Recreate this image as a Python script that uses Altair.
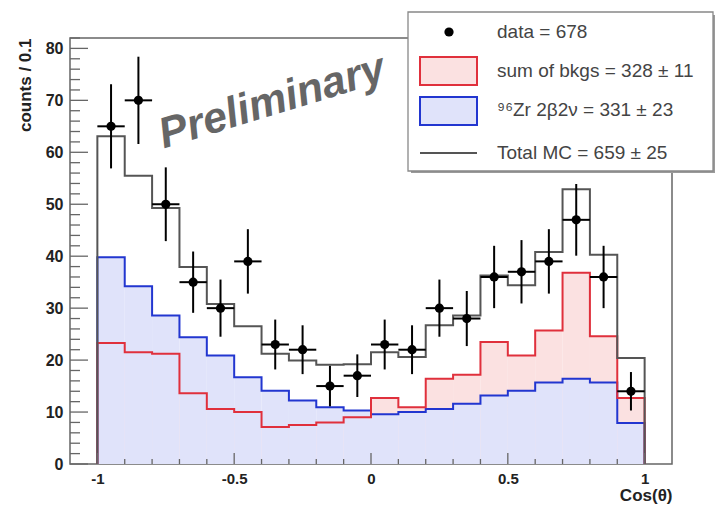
import altair as alt
import pandas as pd

# ---------------- data ----------------
edges = [round(-1.0 + 0.1 * i, 2) for i in range(21)]          # 20 bins of 0.1 on cos(theta)
data_counts = [65, 70, 50, 35, 30, 39, 23, 22, 15, 17, 23, 22, 30, 28, 36, 37, 39, 47, 36, 14]
data_err = [8.1, 8.4, 7.1, 5.9, 5.5, 6.2, 4.8, 4.7, 3.9, 4.1, 4.8, 4.7, 5.5, 5.3, 6.0, 6.1, 6.2, 6.9, 6.0, 3.7]
bkg = [23.3, 21.5, 21.2, 13.6, 10.6, 10.0, 7.1, 7.5, 8.0, 9.0,
       12.7, 10.9, 16.4, 17.2, 23.5, 20.9, 25.7, 36.8, 24.6, 12.7]
zr = [39.8, 34.2, 28.6, 24.4, 20.9, 16.7, 14.1, 12.2, 10.9, 10.3,
      9.6, 10.0, 10.6, 11.6, 13.2, 14.1, 15.7, 16.4, 15.7, 7.9]
total = [63.1, 55.5, 49.3, 37.9, 30.8, 26.5, 21.2, 19.9, 19.1, 19.2,
         21.5, 20.6, 26.7, 28.6, 36.3, 34.4, 40.8, 52.9, 40.3, 20.4]
legend_labels = ["data = 678", "sum of bkgs = 328 \u00b1 11",
                 "\u2079\u2076Zr 2\u03b22\u03bd = 331 \u00b1 23", "Total MC = 659 \u00b1 25"]
y_major = [0, 10, 20, 30, 40, 50, 60, 70, 80]
y_minor = [v for v in range(0, 83, 2) if v % 10 != 0]
x_major = [-1.0, -0.5, 0.0, 0.5, 1.0]
x_minor = [e for e in edges if e not in x_major]

W, H = 602, 426
FONT = "Liberation Sans"
FRAME = "#666666"
RED, BLUE, GREY = "#e0303c", "#2236d0", "#555555"
PINK_FILL, BLUE_FILL = "#fbe1e1", "#e0e3fa"

xs = alt.Scale(domain=[-1.1, 1.1], nice=False, zero=False)
ys = alt.Scale(domain=[0, 82], nice=False, zero=False)

xaxis = alt.Axis(values=x_major, ticks=False, tickSize=0, domain=False, grid=False,
                 labelExpr="toString(datum.value)", labelFont=FONT, labelFontSize=15,
                 labelFontWeight="bold", labelColor="#222222", labelPadding=7, labelFlush=False,
                 title="Cos(\u03b8)", titleFont=FONT, titleFontSize=17, titleFontWeight="bold",
                 titleColor="#222222", titleAnchor="end", titleAlign="right",
                 titleX=W, titleY=31, titleBaseline="middle")
yaxis = alt.Axis(values=y_major, ticks=False, tickSize=0, domain=False, grid=False,
                 labelFont=FONT, labelFontSize=16, labelFontWeight="bold", labelColor="#222222",
                 labelPadding=7, labelFlush=False,
                 title="counts / 0.1", titleFont=FONT, titleFontSize=17, titleFontWeight="bold",
                 titleColor="#222222", titleAnchor="end", titleAlign="right", titleAngle=270,
                 titleX=-45, titleY=0, titleBaseline="middle")


def step_df(vals):
    rows = [{"i": 0, "x": edges[0], "y": 0.0}]
    rows += [{"i": k + 1, "x": edges[k], "y": vals[k]} for k in range(len(vals))]
    rows += [{"i": len(vals) + 1, "x": edges[-1], "y": 0.0}]
    return pd.DataFrame(rows)


def area_df(vals):
    rows = [{"i": k, "x": edges[k], "y": vals[k]} for k in range(len(vals))]
    rows += [{"i": len(vals), "x": edges[-1], "y": vals[-1]}]
    return pd.DataFrame(rows)


def area(vals, color):
    return alt.Chart(area_df(vals)).mark_area(interpolate="step-after", color=color).encode(
        x=alt.X("x:Q", scale=xs, axis=xaxis), y=alt.Y("y:Q", scale=ys, axis=yaxis), order="i:Q")


def step(vals, color, w=2):
    return alt.Chart(step_df(vals)).mark_line(interpolate="step-after", color=color, strokeWidth=w).encode(
        x=alt.X("x:Q", scale=xs, axis=xaxis), y=alt.Y("y:Q", scale=ys, axis=yaxis), order="i:Q")


centers = [round((edges[k] + edges[k + 1]) / 2, 3) for k in range(20)]
pts = pd.DataFrame({
    "x": centers, "lo_x": edges[:-1], "hi_x": edges[1:],
    "y": data_counts,
    "lo": [c - e for c, e in zip(data_counts, data_err)],
    "hi": [c + e for c, e in zip(data_counts, data_err)],
})

vbars = alt.Chart(pts).mark_rule(color="black", strokeWidth=2).encode(
    x=alt.X("x:Q", scale=xs, axis=xaxis), y=alt.Y("lo:Q", scale=ys, axis=yaxis), y2="hi:Q")
hbars = alt.Chart(pts).mark_rule(color="black", strokeWidth=2).encode(
    x=alt.X("lo_x:Q", scale=xs, axis=xaxis), x2="hi_x:Q", y=alt.Y("y:Q", scale=ys, axis=yaxis))
dots = alt.Chart(pts).mark_circle(color="black", opacity=1, size=85).encode(
    x=alt.X("x:Q", scale=xs, axis=xaxis), y=alt.Y("y:Q", scale=ys, axis=yaxis))

# inward ROOT-style ticks
def yticks(vals, length):
    return alt.Chart(pd.DataFrame({"v": vals})).mark_rule(color=FRAME, strokeWidth=1.3).encode(
        y=alt.Y("v:Q", scale=ys, axis=yaxis), x=alt.value(0), x2=alt.value(length))


def xticks(vals, length):
    return alt.Chart(pd.DataFrame({"v": vals})).mark_rule(color=FRAME, strokeWidth=1.3).encode(
        x=alt.X("v:Q", scale=xs, axis=xaxis), y=alt.value(H), y2=alt.value(H - length))


prelim = alt.Chart(pd.DataFrame({"x": [-0.348], "y": [67.3], "t": ["Preliminary"]})).mark_text(
    font=FONT, fontSize=43, fontWeight="bold", fontStyle="italic", color="#666666",
    angle=343, align="center", baseline="alphabetic").encode(
    x=alt.X("x:Q", scale=xs, axis=xaxis), y=alt.Y("y:Q", scale=ys, axis=yaxis), text="t:N")

# ---------------- legend box ----------------
one = pd.DataFrame({"a": [0]})
LX0, LX1, LY0, LY1 = 338, W + 41, -26, 133
leg_shadow = alt.Chart(one).mark_rect(fill="#9a9a9a").encode(
    x=alt.value(LX0 + 3), x2=alt.value(LX1 + 2), y=alt.value(LY0 + 3), y2=alt.value(LY1 + 2))
leg_box = alt.Chart(one).mark_rect(fill="white", stroke="#888888", strokeWidth=1.3).encode(
    x=alt.value(LX0), x2=alt.value(LX1), y=alt.value(LY0), y2=alt.value(LY1))
leg_dot = alt.Chart(one).mark_circle(color="black", opacity=1, size=85).encode(
    x=alt.value(379), y=alt.value(-6))
leg_red = alt.Chart(one).mark_rect(fill=PINK_FILL, stroke=RED, strokeWidth=2).encode(
    x=alt.value(350), x2=alt.value(407), y=alt.value(19), y2=alt.value(47))
leg_blue = alt.Chart(one).mark_rect(fill=BLUE_FILL, stroke=BLUE, strokeWidth=2).encode(
    x=alt.value(350), x2=alt.value(407), y=alt.value(59), y2=alt.value(87))
leg_line = alt.Chart(one).mark_rule(color=GREY, strokeWidth=2).encode(
    x=alt.value(350), x2=alt.value(407), y=alt.value(115))


def leg_text(label, ypix):
    return alt.Chart(pd.DataFrame({"t": [label]})).mark_text(
        font=FONT, fontSize=19, color="#444444", align="left", baseline="middle").encode(
        x=alt.value(427), y=alt.value(ypix), text="t:N")


chart = alt.layer(
    area(bkg, PINK_FILL),
    area(zr, BLUE_FILL),
    step(zr, BLUE),
    step(bkg, RED),
    step(total, GREY),
    yticks(y_major, 18), yticks(y_minor, 10),
    xticks(x_major, 11), xticks(x_minor, 5),
    vbars, hbars, dots,
    prelim,
    leg_shadow, leg_box, leg_dot, leg_red, leg_blue, leg_line,
    leg_text(legend_labels[0], -6), leg_text(legend_labels[1], 33),
    leg_text(legend_labels[2], 72), leg_text(legend_labels[3], 115),
).properties(
    width=W, height=H,
    autosize=alt.AutoSizeParams(type="none"),
    padding={"left": 62, "top": 30, "right": 43, "bottom": 40},
    background="white",
).configure_view(stroke=FRAME, strokeWidth=1.5)

chart.save("out.html", embed_options={"renderer": "svg", "actions": False})
